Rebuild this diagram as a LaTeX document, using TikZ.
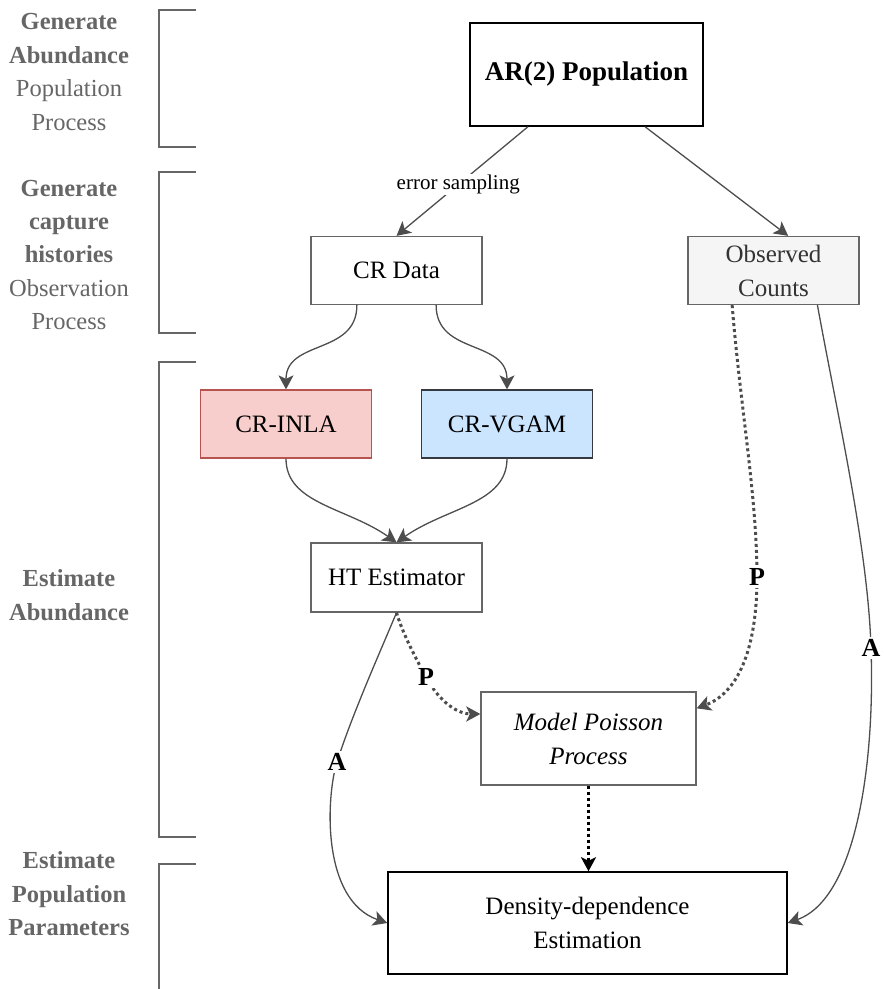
\documentclass[tikz,border=0pt]{standalone}
\usepackage{fontspec}
\setmainfont{Liberation Serif}
\usetikzlibrary{calc, positioning}
\usetikzlibrary{arrows.meta}

\definecolor{labelgray}{HTML}{666666}
\definecolor{linkgray}{HTML}{4D4D4D}
\definecolor{inlafill}{HTML}{F8CECC}
\definecolor{inladraw}{HTML}{B85450}
\definecolor{vgamfill}{HTML}{CCE5FF}
\definecolor{vgamdraw}{HTML}{36393D}
\definecolor{obsfill}{HTML}{F5F5F5}
\definecolor{obstext}{HTML}{333333}

\begin{document}
\begin{tikzpicture}[x=1pt,y=-1pt,
  flowbox/.style={draw=labelgray,line width=1.3pt,fill=white,align=center,inner sep=0pt,
    minimum width=171pt,minimum height=68pt,font=\fontsize{25}{34}\selectfont},
  stagelabel/.style={text=labelgray,align=center,inner sep=0pt,font=\fontsize{24.5}{33.5}\selectfont},
  bracket/.style={draw=labelgray,line width=1.2pt},
  link/.style={draw=linkgray,line width=1.3pt,-{Stealth[length=14pt,width=15pt,inset=3.5pt]}},
  plink/.style={link,line width=3pt,dash pattern=on 3pt off 3pt},
  edgetag/.style={fill=white,inner sep=2pt,font=\fontsize{26}{26}\selectfont\bfseries}]
\useasboundingbox (0,0) rectangle (884,989);

\coordinate (Aleft) at (337,762);
\coordinate (Aright) at (871,648);
\coordinate (Pleft) at (426,677);
\coordinate (Pright) at (757,577);

\foreach \ya/\yb in {10/147,172/333,362/837}
  \draw[bracket] (196,\ya) -| (159,\yb) -- (196,\yb);
\draw[bracket] (196,864) -| (159,995);

\node[stagelabel] (genab) at (69,72) {\textbf{Generate}\\\textbf{Abundance}\\Population\\Process};
\node[stagelabel] (gencap) at (69,255) {\textbf{Generate}\\\textbf{capture}\\\textbf{histories}\\Observation\\Process};
\node[stagelabel] (estab) at (69,595) {\textbf{Estimate}\\\textbf{Abundance}};
\node[stagelabel] (estpop) at (69,894) {\textbf{Estimate}\\\textbf{Population}\\\textbf{Parameters}};

\node[flowbox,draw=black,line width=1.6pt,minimum width=233pt,minimum height=103pt,
  font=\fontsize{27}{30}\selectfont\bfseries] (ar) at (586.5,74.5) {AR(2) Population};
\node[flowbox] (crdata) at (396.5,270.5) {CR Data};
\node[flowbox,fill=obsfill,text=obstext] (obs) at (773.5,270.5) {Observed\\Counts};
\node[flowbox,fill=inlafill,draw=inladraw] (inla) at (286,424) {CR-INLA};
\node[flowbox,fill=vgamfill,draw=vgamdraw] (vgam) at (507,424) {CR-VGAM};
\node[flowbox,minimum height=69pt] (ht) at (396.5,577.5) {HT Estimator};
\node[flowbox,minimum width=215pt,minimum height=93pt] (model) at (588.5,738.5) {\textit{Model Poisson}\\\textit{Process}};
\node[flowbox,draw=black,line width=1.5pt,minimum width=399pt,minimum height=102pt] (dens) at (587.5,923) {Density-dependence\\Estimation};

\draw[link] ($(ar.south west)!0.25!(ar.south east)$) -- (crdata.north)
  node[pos=0.53,fill=white,inner sep=1pt,font=\fontsize{21}{21}\selectfont] (errlabel) {error sampling};
\draw[link] ($(ar.south west)!0.75!(ar.south east)$) -- ($(obs.north west)!0.585!(obs.north east)$);

\draw[link] ($(crdata.south west)!0.27!(crdata.south east)$) .. controls +(0,50) and +(0,-50) .. (inla.north);
\draw[link] ($(crdata.south west)!0.73!(crdata.south east)$) .. controls +(0,50) and +(0,-50) .. (vgam.north);
\draw[link] (inla.south) .. controls +(0,45) and +(-50,-35) .. (ht.north);
\draw[link] (vgam.south) .. controls +(0,45) and +(50,-35) .. (ht.north);

\draw[link] (ht.south) .. controls +(-18,43) and +(15,-47) .. (Aleft) node[edgetag] (tagA1) {A}
  .. controls +(-11,35) and +(-66,-23) .. (dens.west);
\draw[link] ($(obs.south west)!0.755!(obs.south east)$) .. controls +(20,110) and +(-3,-100) .. (Aright) node[edgetag] (tagA2) {A}
  .. controls +(4,110) and +(70,-25) .. (dens.east);

\draw[plink] (ht.south) .. controls +(6,20) and +(-12,-22) .. (Pleft) node[edgetag] (tagP1) {P}
  .. controls +(14,26) and +(-22,0) .. ($(model.north west)!0.24!(model.south west)$);
\draw[plink] ($(obs.south west)!0.26!(obs.south east)$) .. controls +(8,100) and +(0,-80) .. (Pright) node[edgetag] (tagP2) {P}
  .. controls +(0,75) and +(40,-15) .. ($(model.north east)!0.18!(model.south east)$);
\draw[plink,draw=black] (model.south) -- (model.south |- dens.north);
\end{tikzpicture}
\end{document}
